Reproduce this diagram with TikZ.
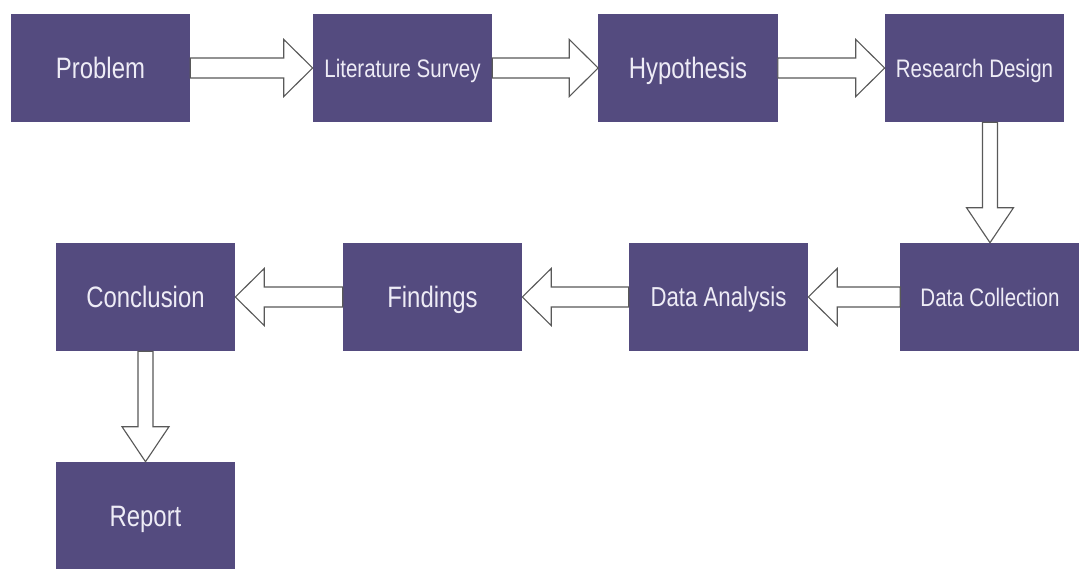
\documentclass[tikz,border=0pt]{standalone}
\usepackage{fontspec}
\setmainfont[FakeStretch=0.81]{Liberation Sans}
\usetikzlibrary{calc}
\definecolor{stagefill}{RGB}{84,75,127}
\definecolor{stagetext}{RGB}{238,236,246}
\tikzset{
  stage/.style={fill=stagefill,text=stagetext,minimum width=4.475cm,minimum height=2.7cm,inner sep=0pt,text height=15pt,text depth=0pt,font=\fontsize{21}{25}\selectfont},
  smallstage/.style={stage,text height=13pt,font=\fontsize{18}{22}\selectfont},
  blockarrow/.style={fill=white,draw=black!65,line width=.8pt,line join=miter}
}
\newcommand{\bigarrow}[5]{%
  \coordinate (headbase) at ($(#2)!#5!(#1)$);
  \draw[blockarrow] ($(#1)!#3!90:(#2)$) -- ($(headbase)!#3!90:(#2)$) -- ($(headbase)!#4!90:(#2)$) -- (#2) -- ($(headbase)!#4!-90:(#2)$) -- ($(headbase)!#3!-90:(#2)$) -- ($(#1)!#3!-90:(#2)$) -- cycle;}
\newcommand{\hbigarrow}[2]{\bigarrow{#1}{#2}{7.1pt}{20.3pt}{20.6pt}}
\newcommand{\vbigarrow}[2]{\bigarrow{#1}{#2}{5.3pt}{16.7pt}{24.9pt}}
\begin{document}
\begin{tikzpicture}[x=0.025cm,y=-0.025cm]
\useasboundingbox[fill=white] (0,0) rectangle (1079,568);
\node[stage] (prob) at (100.5,68) {Problem};
\node[smallstage] (litsurvey) at (402.5,68) {Literature Survey};
\node[stage] (hypo) at (688,68) {Hypothesis};
\node[smallstage] (resdesign) at (974.5,68) {Research Design};
\node[smallstage] (datacoll) at (990,297) {Data Collection};
\node[stage,text height=14pt,font=\fontsize{19.5}{23}\selectfont] (dataanal) at (718.5,297) {Data Analysis};
\node[stage] (findings) at (432.5,297) {Findings};
\node[stage] (concl) at (145.5,297) {Conclusion};
\node[stage] (report) at (145.5,516) {Report};
\coordinate (rdout) at (resdesign.south -| datacoll.north);
\hbigarrow{prob.east}{litsurvey.west}
\hbigarrow{litsurvey.east}{hypo.west}
\hbigarrow{hypo.east}{resdesign.west}
\vbigarrow{rdout}{datacoll.north}
\hbigarrow{datacoll.west}{dataanal.east}
\hbigarrow{dataanal.west}{findings.east}
\hbigarrow{findings.west}{concl.east}
\vbigarrow{concl.south}{report.north}
\end{tikzpicture}
\end{document}
